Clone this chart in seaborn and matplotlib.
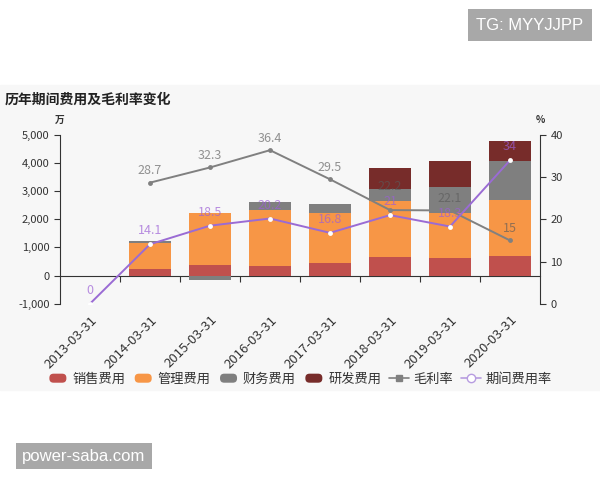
#!/usr/bin/env python3
# coding: utf-8
import numpy as np
import pandas as pd
import seaborn as sns
import matplotlib.pyplot as plt
from matplotlib.patches import Patch, Rectangle, FancyBboxPatch
from matplotlib.lines import Line2D
from matplotlib.legend_handler import HandlerPatch
from matplotlib.ticker import FuncFormatter

# ------------------------------------------------
# Data (万 / %)
# ------------------------------------------------
years = ['2013-03-31', '2014-03-31', '2015-03-31', '2016-03-31',
         '2017-03-31', '2018-03-31', '2019-03-31', '2020-03-31']
sales = [0, 240, 380, 340, 440, 675, 630, 700]
admin = [0, 930, 1860, 1990, 1800, 1990, 1610, 1990]
finance = [0, 60, -150, 285, 296, 400, 910, 1400]
rnd = [0, 0, 0, 0, 0, 760, 935, 710]
gross_margin = [np.nan, 28.7, 32.3, 36.4, 29.5, 22.2, 22.1, 15.0]
expense_rate = [0, 14.1, 18.5, 20.2, 16.8, 21.0, 18.3, 34.0]

bar_names = ['销售费用', '管理费用', '财务费用', '研发费用']
bar_colors = ['#C0504D', '#F79646', '#7F7F7F', '#772C2A']
gm_color = '#808080'
er_color = '#9A6BD4'


# rounded legend swatches
class RoundHandler(HandlerPatch):
    def create_artists(self, legend, orig_handle, xdescent, ydescent,
                       width, height, fontsize, trans):
        p = FancyBboxPatch((-xdescent + 1, -ydescent + 1), width - 2, height - 2,
                           boxstyle='round,pad=0,rounding_size=3',
                           facecolor=orig_handle.get_facecolor(), edgecolor='none',
                           transform=trans)
        return [p]


# ------------------------------------------------
# Style
# ------------------------------------------------
sns.set_theme(style='ticks')
plt.rcParams['font.family'] = ['Noto Sans CJK SC', 'DejaVu Sans']
plt.rcParams['axes.edgecolor'] = '#333333'
plt.rcParams['xtick.color'] = '#333333'
plt.rcParams['ytick.color'] = '#333333'

fig = plt.figure(figsize=(6, 4.8), dpi=100)
fig.patches.append(Rectangle((0, 1 - 390 / 480), 1, 305 / 480,
                             transform=fig.transFigure, color='#F7F7F7', zorder=-5))

ax = fig.add_axes([0.1, 1 - 303.7 / 480, 0.8, (303.7 - 135) / 480])
ax.set_facecolor('none')

# ------------------------------------------------
# Stacked bars (same-sign stacking)
# ------------------------------------------------
pos_base = np.zeros(len(years))
neg_base = np.zeros(len(years))
for name, vals, col in zip(bar_names, [sales, admin, finance, rnd], bar_colors):
    v = np.array(vals, dtype=float)
    bottom = np.where(v >= 0, pos_base, neg_base)
    sns.barplot(x=years, y=v, bottom=bottom, color=col, saturation=1,
                width=0.7, errorbar=None, linewidth=0, ax=ax, zorder=2)
    pos_base = pos_base + np.where(v >= 0, v, 0)
    neg_base = neg_base + np.where(v < 0, v, 0)

ylo, yhi = -1000, 5000
ax.set_ylim(ylo, yhi)
ax.set_xlim(-0.5, len(years) - 0.5)
ax.set_yticks(np.arange(ylo, yhi + 1, 1000))
ax.yaxis.set_major_formatter(FuncFormatter(lambda v, p: f'{v:,.0f}'))
ax.tick_params(axis='y', labelsize=8, length=4, width=0.8)
ax.tick_params(axis='x', length=0, pad=7, labelsize=9.5)
plt.setp(ax.get_xticklabels(), rotation=45, ha='right', rotation_mode='anchor')
ax.set_xlabel('')
for s in ['top', 'right', 'bottom']:
    ax.spines[s].set_visible(False)
ax.spines['left'].set_linewidth(0.8)

# zero line with boundary ticks
zero_axis = ax.secondary_xaxis((0 - ylo) / (yhi - ylo))
zero_axis.set_xticks(np.arange(len(years) - 1) + 0.5)
zero_axis.tick_params(length=4, width=0.8, labelbottom=False)
zero_axis.spines['bottom'].set_linewidth(0.8)

# ------------------------------------------------
# Rate lines on right axis
# ------------------------------------------------
ax2 = ax.twinx()
pos = np.arange(len(years))
rates = pd.DataFrame({'pos': pos, 'gm': gross_margin, 'er': expense_rate})
sns.lineplot(data=rates, x='pos', y='gm', ax=ax2, color=gm_color, linewidth=1.4,
             marker='o', markersize=3.5, markeredgewidth=0, zorder=3)
sns.lineplot(data=rates, x='pos', y='er', ax=ax2, color=er_color, linewidth=1.4,
             marker='o', markersize=3.5, markerfacecolor='white',
             markeredgewidth=0, zorder=4)
for x, g, e in zip(pos, gross_margin, expense_rate):
    if not np.isnan(g):
        # lift the label when it would sit on top of the other series' label
        off = 12 if abs(g - e) < 3 else 4
        ax2.annotate(f'{g:g}', (x, g), xytext=(0, off), textcoords='offset points',
                     ha='center', va='bottom', fontsize=9, color='#5A5A5A', alpha=0.65)
for x, e in zip(pos, expense_rate):
    ax2.annotate(f'{e:g}', (x, e), xytext=(0, 5), textcoords='offset points',
                 ha='center', va='bottom', fontsize=9, color='#9C5FD6', alpha=0.7)

ax2.set_ylim(0, 40)
ax2.set_yticks(np.arange(0, 41, 10))
ax2.set_ylabel('')
ax2.set_xlabel('')
ax2.tick_params(axis='y', labelsize=8, length=4, width=0.8)
for s in ['top', 'left', 'bottom']:
    ax2.spines[s].set_visible(False)
ax2.spines['right'].set_linewidth(0.8)
ax2.set_xlim(-0.5, len(years) - 0.5)

ax.text(0, 1.06, '万', transform=ax.transAxes, ha='center', va='bottom',
        fontsize=7, fontweight='bold', color='#333333')
ax2.text(1, 1.06, '%', transform=ax2.transAxes, ha='center', va='bottom',
         fontsize=7, fontweight='bold', color='#333333')

# ------------------------------------------------
# Title, legend, watermarks
# ------------------------------------------------
fig.text(0.008, 1 - 100 / 480, '历年期间费用及毛利率变化', fontsize=10,
         fontweight='bold', va='center', ha='left', color='#222222')

handles = [Patch(facecolor=c, edgecolor='none') for c in bar_colors]
handles += [Line2D([0], [0], color=gm_color, marker='s', markersize=5, linewidth=1.2),
            Line2D([0], [0], color='#B79CE0', marker='o', markersize=6,
                   markerfacecolor='white', linewidth=1.2)]
labels = bar_names + ['毛利率', '期间费用率']
fig.legend(handles, labels, loc='center', bbox_to_anchor=(0.5, 1 - 379 / 480),
           ncol=6, frameon=False, fontsize=9.5, handlelength=1.5, handleheight=1.0,
           handletextpad=0.35, columnspacing=0.6, labelcolor='#333333',
           handler_map={Patch: RoundHandler()})

fig.text(530 / 600, 1 - 25 / 480, 'TG: MYYJJPP', ha='center', va='center',
         fontsize=12, color='white', family='Liberation Sans',
         bbox=dict(boxstyle='square,pad=0.5', fc='#A8A8A8', ec='none'))
fig.text(84 / 600, 1 - 456 / 480, 'power-saba.com', ha='center', va='center',
         fontsize=12, color='white', family='Liberation Sans',
         bbox=dict(boxstyle='square,pad=0.35', fc='#A8A8A8', ec='none'))

plt.savefig('out.png', dpi=100)
plt.close(fig)
